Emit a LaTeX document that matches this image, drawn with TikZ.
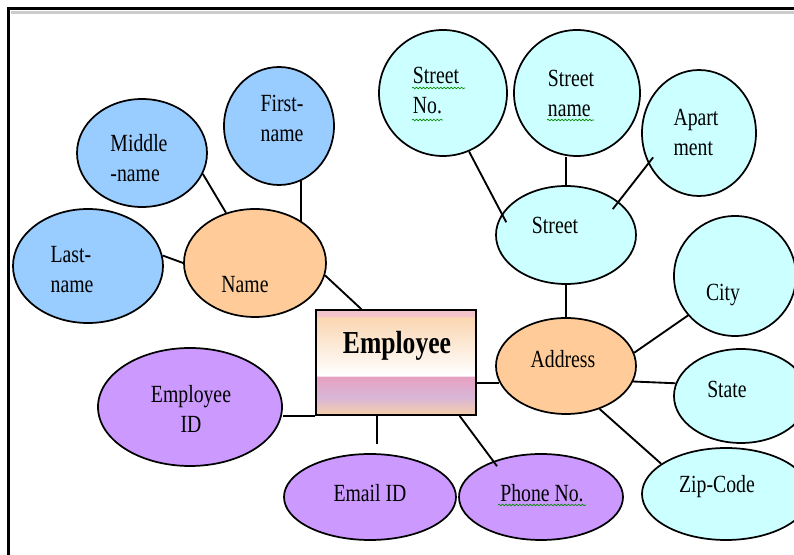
\documentclass[tikz,border=0pt]{standalone}
\usepackage{fontspec}
\setmainfont{Liberation Serif}[FakeStretch=0.8]
\usetikzlibrary{shapes.geometric, calc, decorations.pathmorphing}

\definecolor{attrblue}{HTML}{99CCFF}
\definecolor{attrorange}{HTML}{FFCC99}
\definecolor{attrcyan}{HTML}{CCFFFF}
\definecolor{attrpurple}{HTML}{CC99FF}
\definecolor{entpink}{HTML}{F4C2CC}
\definecolor{entpeach}{HTML}{FAD6B2}
\definecolor{entrose}{HTML}{E6A2C2}
\definecolor{entmauve}{HTML}{D9B6D8}
\definecolor{entbottom}{HTML}{F6CEAA}

\tikzset{esize/.style 2 args={minimum width=#1*1.5pt, minimum height=#2*1.5pt}}
\tikzstyle{attr} = [ellipse, draw=black, line width=1.3pt, inner sep=0pt]
\tikzstyle{entity} = [rectangle, draw=black, line width=1.3pt, inner sep=0pt,
    minimum width=120pt, minimum height=78.75pt,
    path picture={
      \shade[top color=entpink, bottom color=entpeach] (path picture bounding box.north west) rectangle ([yshift=-6pt]path picture bounding box.north east);
      \shade[top color=entpeach, bottom color=white] ([yshift=-6pt]path picture bounding box.north west) rectangle ([yshift=-48.75pt]path picture bounding box.north east);
      \shade[top color=white, bottom color=entrose] ([yshift=-48.75pt]path picture bounding box.north west) rectangle ([yshift=-51pt]path picture bounding box.north east);
      \shade[top color=entrose, bottom color=entmauve] ([yshift=-51pt]path picture bounding box.north west) rectangle ([yshift=-65.25pt]path picture bounding box.north east);
      \shade[top color=entmauve, bottom color=entbottom] ([yshift=-65.25pt]path picture bounding box.north west) rectangle (path picture bounding box.south east);
    }]
\tikzstyle{txt} = [inner sep=0pt, font=\fontsize{18.5}{22.5}\selectfont]
\tikzstyle{link} = [line width=1.4pt]
\tikzstyle{spell} = [green!55!black, line width=0.5pt, decorate,
    decoration={snake, amplitude=0.6pt, segment length=2.6pt}]

\begin{document}
\begin{tikzpicture}[x=0.75pt, y=-0.75pt]

    \fill[white] (0,0) rectangle (794,555);
    \useasboundingbox (0,0) rectangle (794,555);

    % Frame
    \draw[gray!40, line width=2.5pt] (11,12.5) -- (794,12.5);
    \draw[line width=2.2pt] (8.7,555) -- (8.7,8.5) -- (794,8.5);

    % Nodes
    \node (first) [attr, fill=attrblue, esize={55}{59}] at (279,126) {};
    \node (middle) [attr, fill=attrblue, esize={65}{54}] at (142,153) {};
    \node (last) [attr, fill=attrblue, esize={75}{57}] at (88,266) {};
    \node (name) [attr, fill=attrorange, esize={71}{54}] at (255,263) {};

    \node (stno) [attr, fill=attrcyan, esize={64}{63}] at (443,93) {};
    \node (stname) [attr, fill=attrcyan, esize={63}{63}] at (577,93) {};
    \node (apt) [attr, fill=attrcyan, esize={57}{63}] at (699,133) {};
    \node (street) [attr, fill=attrcyan, esize={70}{49}] at (566,235) {};

    \node (city) [attr, fill=attrcyan, esize={61}{60}] at (735,276) {};
    \node (state) [attr, fill=attrcyan, esize={67}{47}] at (741,396) {};
    \node (zip) [attr, fill=attrcyan, esize={84}{46}] at (726,494) {};
    \node (addr) [attr, fill=attrorange, esize={70}{48}] at (566,366) {};

    \node (emp) [entity] at (396,362.5) {};
    \node (empid) [attr, fill=attrpurple, esize={92}{59}] at (190,407) {};
    \node (email) [attr, fill=attrpurple, esize={86}{43}] at (370,497) {};
    \node (phone) [attr, fill=attrpurple, esize={82}{43}] at (541,497) {};

    % Texts
    \node (first-t) [txt, align=center] at (282,118) {First-\\name};
    \node (middle-t) [txt, align=left] at (139,158) {Middle\\-name};
    \node (last-t) [txt, align=left] at (72,270) {Last-\\name};
    \node (name-t) [txt] at (245,285) {Name};
    \node (stno-t) [txt, align=left] at (436,91) {Street\\No.};
    \node (stname-t) [txt, align=left] at (571,93) {Street\\name};
    \node (apt-t) [txt, align=left] at (696,132) {Apart\\ment};
    \node (street-t) [txt] at (555,225) {Street};
    \node (city-t) [txt] at (723,295) {City};
    \node (state-t) [txt] at (727,389) {State};
    \node (zip-t) [txt] at (717,487) {Zip-Code};
    \node (addr-t) [txt] at (563,359) {Address};
    \node (emp-t) [txt, font=\fontsize{24}{28}\selectfont\bfseries] at (397,346) {Employee};
    \node (empid-t) [txt, align=center] at (191,409) {Employee\\ID};
    \node (email-t) [txt] at (370,493) {Email ID};
    \node (phone-t) [txt] at (542,493) {Phone No.};

    % Spelling marks
    \draw[spell] (412,88) -- (465,88);
    \draw[spell] (412,120) -- (443,120);
    \draw[spell] (547,120) -- (594,120);
    \draw[spell] (498,505) -- (586,505);

    % Links
    \draw[link] (middle.-19) -- (name.120);
    \draw[link] (first.-68) -- (first.-68 |- name.40);
    \draw[link] (last.8) -- (name.180);
    \draw[link] (name.-10) -- (emp.123);

    \draw[link] (stno.-66) -- ($(street.center)!0.88!(street.168)$);
    \draw[link] (street.north) -- (street.north |- stname.south);
    \draw[link] ($(apt.center)!0.88!(apt.208)$) -- ($(street.center)!0.84!(street.29)$);
    \draw[link] (street.south) -- (addr.north);

    \draw[link] (city.220) -- (addr.11);
    \draw[link] (addr.-13) -- (state.169);
    \draw[link] (addr.-52) -- (zip.155);
    \draw[link] (addr.194) -- (addr.194 -| emp.east);

    \coordinate (mailtip) at (377,444);
    \draw[link] (emp.south west) -- (emp.south west -| empid.east);
    \draw[link] (mailtip |- emp.south) -- (mailtip);
    \draw[link] (emp.-40) -- ($(phone.center)!0.88!(phone.145)$);

\end{tikzpicture}
\end{document}
